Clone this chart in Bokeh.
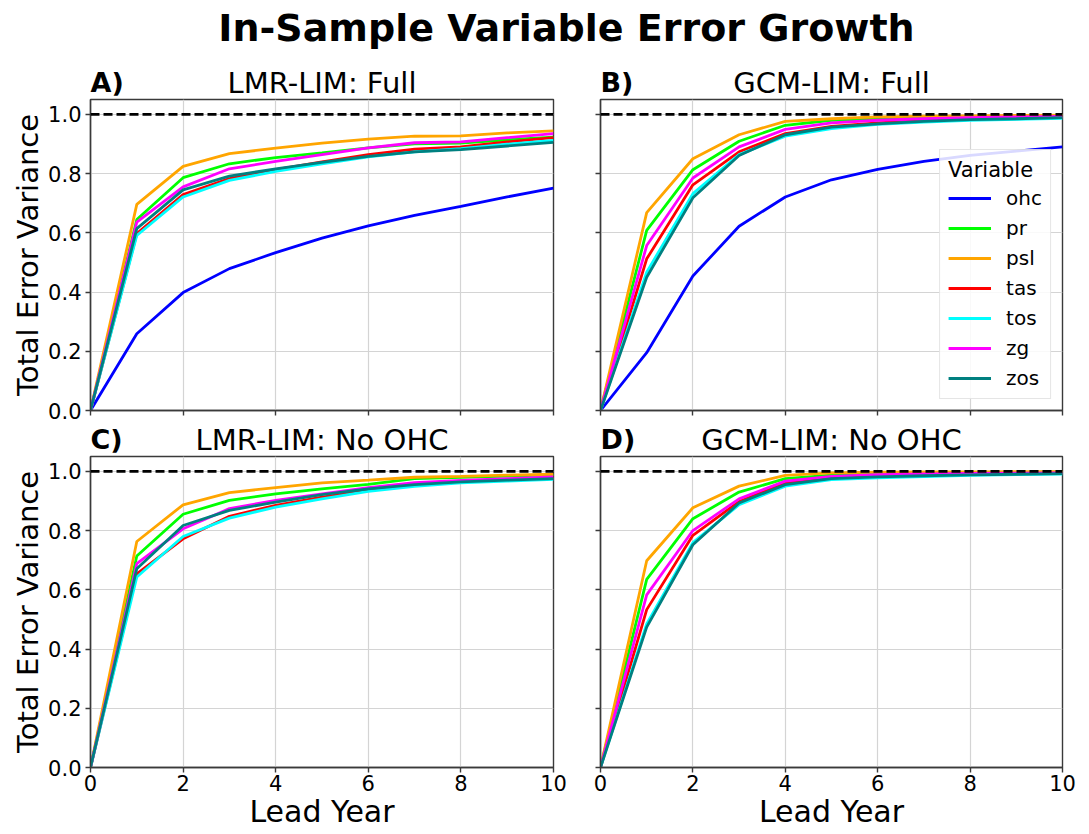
from bokeh.plotting import figure
from bokeh.models import (Range1d, FixedTicker, Span, Label, Legend, LegendItem,
                          CustomJSTickFormatter, NumeralTickFormatter)
from bokeh.layouts import column, row
from bokeh.embed import file_html
from bokeh.resources import INLINE

FONT = "DejaVu Sans"

lead = [0, 1, 2, 3, 4, 5, 6, 7, 8, 9, 10]
x_ticks = [0, 2, 4, 6, 8, 10]
y_ticks = [0.0, 0.2, 0.4, 0.6, 0.8, 1.0]
variables = ["ohc", "pr", "psl", "tas", "tos", "zg", "zos"]
colors = ["#0000ff", "#00ff00", "#ffa500", "#ff0000", "#00ffff", "#ff00ff", "#008080"]

# Panel A: LMR-LIM Full
a_ohc = [0, .259, .398, .479, .533, .582, .623, .659, .689, .721, .751]
a_pr  = [0, .645, .786, .833, .854, .870, .887, .900, .903, .914, .923]
a_psl = [0, .696, .824, .867, .886, .903, .916, .926, .927, .937, .944]
a_tas = [0, .597, .729, .783, .813, .839, .864, .882, .890, .907, .921]
a_tos = [0, .591, .721, .777, .807, .833, .856, .873, .884, .899, .912]
a_zg  = [0, .636, .755, .816, .841, .864, .887, .904, .907, .921, .935]
a_zos = [0, .614, .745, .791, .816, .838, .858, .873, .881, .893, .905]

# Panel B: GCM-LIM Full
b_ohc = [0, .195, .454, .622, .721, .779, .814, .841, .861, .876, .890]
b_pr  = [0, .608, .813, .909, .963, .980, .985, .989, .991, .993, .995]
b_psl = [0, .668, .850, .931, .976, .985, .991, .994, .995, .996, .997]
b_tas = [0, .512, .762, .873, .935, .959, .971, .980, .984, .988, .991]
b_tos = [0, .467, .732, .864, .926, .952, .966, .974, .980, .983, .986]
b_zg  = [0, .557, .785, .890, .949, .971, .980, .985, .989, .991, .993]
b_zos = [0, .450, .718, .861, .931, .957, .968, .976, .982, .985, .989]

# Panel C: LMR-LIM No OHC
c_pr  = [0, .714, .855, .902, .924, .941, .956, .975, .980, .984, .988]
c_psl = [0, .763, .887, .928, .945, .961, .970, .980, .983, .987, .990]
c_tas = [0, .654, .772, .848, .885, .913, .936, .953, .964, .972, .978]
c_tos = [0, .643, .780, .842, .879, .907, .932, .949, .961, .967, .973]
c_zg  = [0, .688, .806, .874, .902, .924, .945, .962, .969, .975, .981]
c_zos = [0, .671, .817, .868, .896, .921, .941, .955, .964, .970, .975]

# Panel D: GCM-LIM No OHC
d_pr  = [0, .635, .840, .930, .975, .987, .991, .993, .995, .996, .997]
d_psl = [0, .698, .877, .950, .986, .995, .997, .998, .998, .999, .999]
d_tas = [0, .533, .784, .898, .960, .978, .984, .988, .990, .992, .994]
d_tos = [0, .485, .759, .887, .950, .972, .978, .982, .986, .989, .991]
d_zg  = [0, .583, .800, .907, .967, .983, .989, .991, .993, .994, .995]
d_zos = [0, .474, .752, .893, .955, .975, .981, .985, .988, .990, .992]

suptitle = "In-Sample Variable Error Growth"
panel_letters = ["A)", "B)", "C)", "D)"]
panel_titles = ["LMR-LIM: Full", "GCM-LIM: Full", "LMR-LIM: No OHC", "GCM-LIM: No OHC"]
panel_series = [
    {"ohc": a_ohc, "pr": a_pr, "psl": a_psl, "tas": a_tas, "tos": a_tos, "zg": a_zg, "zos": a_zos},
    {"ohc": b_ohc, "pr": b_pr, "psl": b_psl, "tas": b_tas, "tos": b_tos, "zg": b_zg, "zos": b_zos},
    {"pr": c_pr, "psl": c_psl, "tas": c_tas, "tos": c_tos, "zg": c_zg, "zos": c_zos},
    {"pr": d_pr, "psl": d_psl, "tas": d_tas, "tos": d_tos, "zg": d_zg, "zos": d_zos},
]

AX = "#3a3a3a"
GRID = "#d4d4d4"

# layout geometry (pixels)
LEFT_W = 573    # 90 border + 463 frame + 20
RIGHT_W = 504   # 27 border + 462 frame + 15
TOTAL_W = LEFT_W + RIGHT_W
FRAME_H = 311


def make_panel(idx, series):
    left = idx % 2 == 0
    top = idx < 2
    width = LEFT_W if left else RIGHT_W
    b_top = 1
    b_bot = 12 if top else 66
    height = b_top + FRAME_H + b_bot
    p = figure(width=width, height=height, output_backend="svg", toolbar_location=None,
               x_range=Range1d(0, 10), y_range=Range1d(0, 1.05),
               min_border_left=90 if left else 27, min_border_right=20 if left else 15,
               min_border_top=b_top, min_border_bottom=b_bot)
    p.background_fill_color = "white"
    p.border_fill_color = "white"
    p.outline_line_color = AX
    p.outline_line_width = 1.4
    p.xaxis.ticker = FixedTicker(ticks=x_ticks)
    p.yaxis.ticker = FixedTicker(ticks=y_ticks)
    for ax in (p.xaxis[0], p.yaxis[0]):
        ax.axis_line_color = AX
        ax.axis_line_width = 1.4
        ax.major_tick_line_color = AX
        ax.major_tick_line_width = 1.4
        ax.major_tick_out = 5
        ax.major_tick_in = 0
        ax.minor_tick_line_color = None
        ax.major_label_text_font = FONT
        ax.major_label_text_font_size = "21px"
        ax.major_label_text_color = "black"
        ax.axis_label_text_font = FONT
        ax.axis_label_text_font_style = "normal"
        ax.axis_label_text_color = "black"
    p.xaxis.axis_label_text_font_size = "30px"
    p.yaxis.axis_label_text_font_size = "29px"
    p.yaxis.formatter = NumeralTickFormatter(format="0.0")
    p.xaxis.formatter = NumeralTickFormatter(format="0")
    p.xaxis.major_label_standoff = 2
    p.yaxis.major_label_standoff = 4
    p.xaxis.axis_label_standoff = 0
    p.yaxis.axis_label_standoff = 0
    if left:
        p.yaxis.axis_label = "Total Error Variance"
    else:
        p.yaxis.formatter = CustomJSTickFormatter(code="return ''")
        p.yaxis.major_label_standoff = 0
    if top:
        p.xaxis.formatter = CustomJSTickFormatter(code="return ''")
        p.xaxis.major_label_standoff = 0
    else:
        p.xaxis.axis_label = "Lead Year"
    p.grid.grid_line_color = GRID
    p.grid.grid_line_width = 1.2

    p.add_layout(Span(location=1.0, dimension="width", line_color="black",
                      line_width=2.7, line_dash="9 4"))

    items = []
    for var, col in zip(variables, colors):
        if var in series:
            r = p.line(lead, series[var], line_color=col, line_width=2.8)
            items.append(LegendItem(label=var, renderers=[r]))

    if idx == 1:
        leg = Legend(items=items, location="bottom_right", title="Variable")
        leg.title_text_font = FONT
        leg.title_text_font_size = "21px"
        leg.title_text_font_style = "normal"
        leg.title_text_color = "black"
        leg.title_standoff = 4
        leg.label_text_font = FONT
        leg.label_text_font_size = "20px"
        leg.label_text_color = "black"
        leg.glyph_width = 43
        leg.glyph_height = 20
        leg.label_height = 20
        leg.spacing = 6
        leg.padding = 8
        leg.label_standoff = 15
        leg.margin = 11
        leg.border_line_color = "#cccccc"
        leg.border_line_width = 1.2
        leg.background_fill_alpha = 0.85
        p.add_layout(leg)
    return p


def text_strip(height, texts):
    f = figure(width=TOTAL_W, height=height, output_backend="svg", toolbar_location=None,
               x_range=Range1d(0, TOTAL_W), y_range=Range1d(0, height), min_border=0)
    f.axis.visible = False
    f.grid.grid_line_color = None
    f.outline_line_color = None
    f.border_fill_color = "white"
    for (x, y, txt, size, style, align) in texts:
        f.add_layout(Label(x=x, y=y, text=txt, text_font=FONT, text_font_size=size,
                           text_font_style=style, text_align=align,
                           text_baseline="alphabetic", text_color="black"))
    return f


figs = [make_panel(i, s) for i, s in enumerate(panel_series)]

# header: suptitle + titles of panels A and B (frames start at page y=99)
HEAD_H = 98
PT_Y = 16
header = text_strip(HEAD_H, [
    (566, 71, suptitle, "38px", "bold", "center"),
    (90, PT_Y, panel_letters[0], "27px", "bold", "left"),
    (321.5, PT_Y, panel_titles[0], "29px", "normal", "center"),
    (LEFT_W + 27, PT_Y, panel_letters[1], "27px", "bold", "left"),
    (LEFT_W + 27 + 231, PT_Y, panel_titles[1], "29px", "normal", "center"),
])

# middle strip: titles of panels C and D (frames start at page y=456)
MID_H = 33
middle = text_strip(MID_H, [
    (90, PT_Y, panel_letters[2], "27px", "bold", "left"),
    (321.5, PT_Y, panel_titles[2], "29px", "normal", "center"),
    (LEFT_W + 27, PT_Y, panel_letters[3], "27px", "bold", "left"),
    (LEFT_W + 27 + 231, PT_Y, panel_titles[3], "29px", "normal", "center"),
])

layout = column(header, row(figs[0], figs[1]), middle, row(figs[2], figs[3]))

open("out.html", "w").write(file_html(layout, INLINE))
